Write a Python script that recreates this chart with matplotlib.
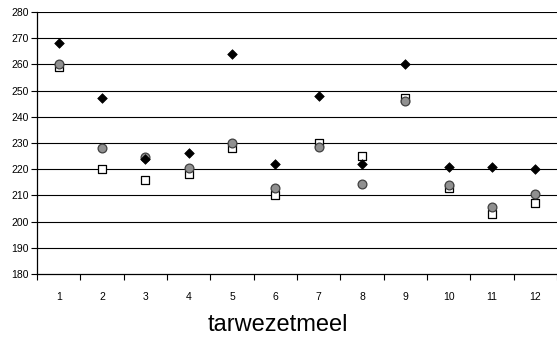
import numpy as np
import matplotlib.pyplot as plt

plt.rcParams["font.family"] = ["Liberation Sans", "DejaVu Sans"]

categories = list(range(1, 13))
series_diamond = [268, 247, 224, 226, 264, 222, 248, 222, 260, 221, 221, 220]
series_circle = [260, 228, 224.5, 220.5, 230, 213, 228.5, 214.5, 246, 214, 205.5, 210.5]
series_square = [259, 220, 216, 218, 228, 210, 230, 225, 247, 213, 203, 207]
y_ticks = list(range(180, 281, 10))
title = "tarwezetmeel"

W, H = 557, 341
fig = plt.figure(figsize=(W / 100, H / 100), dpi=100)
ax = fig.add_axes([37 / W, 1 - 274 / H, 1 - 37 / W, (274 - 12) / H])

x = np.array(categories)
ax.scatter(x, series_square, marker="s", s=36, facecolor="white",
           edgecolor="black", linewidth=0.9, zorder=3)
ax.scatter(x, series_circle, marker="o", s=40, facecolor="#909090",
           edgecolor="#404040", linewidth=0.9, zorder=4)
ax.scatter(x, series_diamond, marker="D", s=24, facecolor="black",
           edgecolor="black", linewidth=0.5, zorder=5)

ax.set_xlim(0.5, 12.5)
ax.set_ylim(180, 280)
ax.set_yticks(y_ticks)
ax.set_yticklabels([str(v) for v in y_ticks], fontsize=7.5)
for v in y_ticks[1:]:
    ax.axhline(v, color="black", linewidth=0.8, zorder=1)

# category labels centered, tick marks between categories
ax.set_xticks(np.arange(0.5, 13, 1))
ax.set_xticklabels([])
ax.set_xticks(x, minor=True)
ax.set_xticklabels([str(c) for c in categories], minor=True, fontsize=7.5)
ax.tick_params(axis="x", which="major", direction="out", length=4, width=0.8)
ax.tick_params(axis="x", which="minor", length=0, pad=13)
ax.tick_params(axis="y", direction="out", length=4, width=0.8, pad=2)

for side in ["top", "right"]:
    ax.spines[side].set_visible(False)
for side in ["left", "bottom"]:
    ax.spines[side].set_linewidth(0.9)

fig.text(278 / W, 1 - 325 / H, title, fontsize=17, ha="center", va="center")

fig.savefig("out.png", dpi=100)
